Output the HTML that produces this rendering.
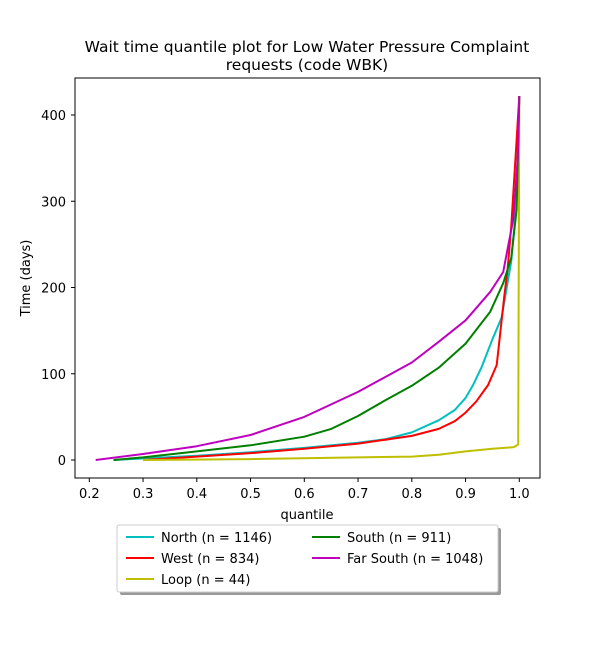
<!DOCTYPE html>
<html><head><meta charset="utf-8"><style>
body{margin:0;background:#fff;font-family:"Liberation Sans","DejaVu Sans",sans-serif}
svg text{font-family:"DejaVu Sans","Liberation Sans",sans-serif}
</style></head><body>
<svg id="chart" width="600" height="650" xmlns="http://www.w3.org/2000/svg">
<rect width="600" height="650" fill="#fff"/>
<text x="307" y="52" font-size="15.5" text-anchor="middle">Wait time quantile plot for Low Water Pressure Complaint</text>
<text x="307" y="70" font-size="15.5" text-anchor="middle">requests (code WBK)</text>
<g id="plot"></g>
<rect x="75" y="78" width="465" height="400" fill="none" stroke="#000" stroke-width="1"/>
<text x="307" y="519" font-size="13" text-anchor="middle">quantile</text>
<text transform="translate(30,278) rotate(-90)" font-size="13" text-anchor="middle">Time (days)</text>
<g>
<rect x="120" y="528" width="381" height="67" fill="#999" rx="2"/>
<rect x="117" y="525" width="381" height="67" fill="#fff" stroke="#ccc" rx="2"/>
<g id="legend-items"></g>
</g>
</svg>
<script>
const xTicks=[0.2,0.3,0.4,0.5,0.6,0.7,0.8,0.9,1.0];
const yTicks=[0,100,200,300,400];
const seriesNames=["North (n = 1146)","West (n = 834)","Loop (n = 44)","South (n = 911)","Far South (n = 1048)"];
const seriesColors=["#00bfbf","#ff0000","#bfbf00","#008000","#bf00bf"];
const northQ=[0.245,0.4,0.5,0.6,0.7,0.75,0.8,0.85,0.88,0.9,0.914,0.93,0.95,0.967,0.985,0.995,1.0];
const northT=[0,5,9,14,20,24,32,46,58,72,87,108,140,165,230,300,422];
const westQ=[0.3,0.4,0.5,0.6,0.7,0.8,0.85,0.88,0.9,0.92,0.942,0.958,0.965,0.972,0.978,0.985,0.99,0.996,1.0];
const westT=[0,4,8,13,19,28,36,45,55,68,87,110,150,190,220,270,320,380,422];
const loopQ=[0.3,0.5,0.7,0.8,0.85,0.9,0.95,0.99,0.998,1.0];
const loopT=[0,1,3,4,6,10,13,15,18,422];
const southQ=[0.245,0.3,0.4,0.5,0.6,0.65,0.7,0.75,0.8,0.85,0.9,0.946,0.97,0.985,0.995,1.0];
const southT=[0,3,10,17,27,36,51,69,86,107,135,172,205,234,290,422];
const farSouthQ=[0.212,0.3,0.4,0.5,0.6,0.7,0.8,0.85,0.9,0.946,0.97,0.989,0.997,1.0];
const farSouthT=[0,7,16,29,50,79,113,137,162,195,218,280,350,422];

const NS="http://www.w3.org/2000/svg";
function xs(v){return 89.3+(v-0.2)*537.5;}
function ys(v){return 460-v*0.8625;}
const plot=document.getElementById('plot');
function mk(tag,attrs,parent){const e=document.createElementNS(NS,tag);for(const k in attrs)e.setAttribute(k,attrs[k]);parent.appendChild(e);return e;}
xTicks.forEach(t=>{
  const l=mk('line',{x1:xs(t),x2:xs(t),y1:478,y2:482,stroke:'#000'},plot);
  
  
  const tx=mk('text',{x:xs(t),y:498,'font-size':13,'text-anchor':'middle'},plot);
  tx.textContent=t.toFixed(1);
  
  
});
yTicks.forEach(t=>{
  const l=mk('line',{x1:71,x2:75,y1:ys(t),y2:ys(t),stroke:'#000'},plot);
  
  
  const tx=mk('text',{x:66,y:ys(t)+5,'font-size':13,'text-anchor':'end'},plot);
  tx.textContent=t;
  
  
});
const data=[[northQ,northT],[westQ,westT],[loopQ,loopT],[southQ,southT],[farSouthQ,farSouthT]];
const slugs=["north","west","loop","south","far-south"];
data.forEach((d,i)=>{
  const pts=d[0].map((q,j)=>xs(q).toFixed(1)+','+ys(d[1][j]).toFixed(1)).join(' ');
  const p=mk('polyline',{points:pts,fill:'none',stroke:seriesColors[i],'stroke-width':2,'stroke-linejoin':'round'},plot);
  
  
});
const lg=document.getElementById('legend-items');
const pos=[[126,537],[126,558],[126,579],[312,537],[312,558]];
seriesNames.forEach((n,i)=>{
  const [x,y]=pos[i];
  const l=mk('line',{x1:x,x2:x+28,y1:y,y2:y,stroke:seriesColors[i],'stroke-width':2},lg);
  
  
  const t=mk('text',{x:x+35,y:y+5,'font-size':13},lg);
  t.textContent=n;
  
  
});
</script>
</body></html>
